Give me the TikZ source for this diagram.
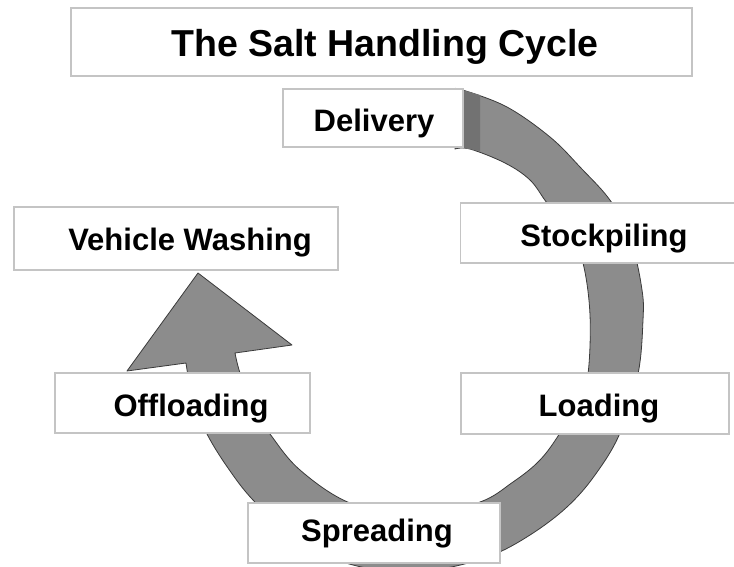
\documentclass[tikz,border=0pt]{standalone}
\usepackage{fontspec}
\setmainfont{Liberation Sans}
\definecolor{bandgray}{HTML}{8C8C8C}
\definecolor{bandedge}{HTML}{3A3A3A}
\definecolor{boxedge}{HTML}{C4C4C4}
\definecolor{endface}{HTML}{727272}
\tikzset{
  boxnode/.style={draw=boxedge, line width=1.6pt, fill=white, inner sep=0pt},
  lbl/.style={font=\fontsize{31}{36}\selectfont\bfseries, inner sep=0pt, anchor=center, yshift=-2pt},
  ttl/.style={font=\fontsize{37.5}{42}\selectfont\bfseries, inner sep=0pt, anchor=center},
  band/.style={fill=bandgray, draw=bandedge, line width=0.8pt, line join=round}
}
\begin{document}
\begin{tikzpicture}[x=1pt, y=-1pt]
\useasboundingbox (0,0) rectangle (734,566);
% title
\node[boxnode, minimum width=621pt, minimum height=68pt] (title) at (381.5,42) {};
\node[ttl] (titletxt) at (385,47) {The Salt Handling Cycle};
% cycle arrow band
\filldraw[band]
  plot[smooth, tension=0.6] coordinates {(455,89) (463,90) (507,107) (550,137) (580,167) (612,203) (632,245) (642,290) (643,320) (638,374) (620,433) (595,475) (567,507) (530,535) (490,556) (440,569) (390,571) (340,561) (292,536) (253,500) (228,468) (207,434) (193,400) (186,363)}
  -- (127,371) -- (198,273) -- (292,345) --
  plot[smooth, tension=0.6] coordinates {(235,353) (240,373) (253,408) (270,434) (300,470) (350,503) (410,514) (477,503) (513,482) (540,460) (560,433) (579,400) (588,374) (590,315) (583,263) (569,230) (547,203) (530,180) (505,163) (470,149) (455,149)}
  -- cycle;
\fill[endface] (463,90) -- (480,95) -- (480,151) -- (463,148) -- cycle;
% boxes
\node[boxnode, minimum width=180pt, minimum height=58pt] (delivery) at (373,118) {};
\node[lbl] (deliverytxt) at (374,121) {Delivery};
\node[boxnode, minimum width=275pt, minimum height=60pt] (stock) at (598,233) {};
\node[lbl] (stocktxt) at (604,237) {Stockpiling};
\node[boxnode, minimum width=324pt, minimum height=63pt] (wash) at (176,238.5) {};
\node[lbl] (washtxt) at (190,241) {Vehicle Washing};
\node[boxnode, minimum width=255pt, minimum height=60pt] (offload) at (182.5,403) {};
\node[lbl] (offloadtxt) at (191,407) {Offloading};
\node[boxnode, minimum width=268pt, minimum height=61pt] (load) at (595,403.5) {};
\node[lbl] (loadtxt) at (599,407) {Loading};
\node[boxnode, minimum width=252pt, minimum height=60pt] (spread) at (374,533) {};
\node[lbl] (spreadtxt) at (377,532) {Spreading};
\end{tikzpicture}
\end{document}
